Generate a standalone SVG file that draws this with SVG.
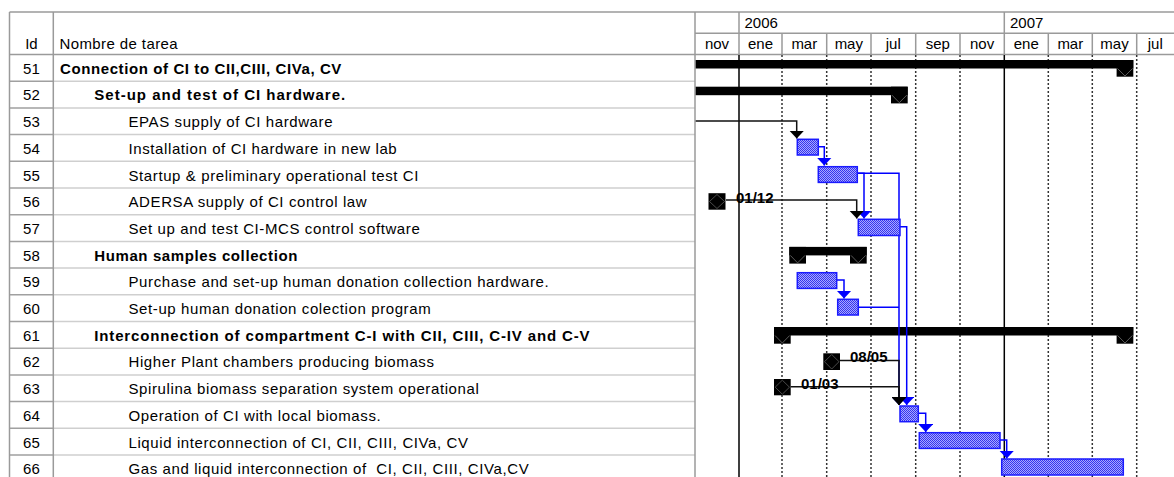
<svg xmlns="http://www.w3.org/2000/svg" width="1174" height="477" viewBox="0 0 1174 477">
<style>
text{font-family:"Liberation Sans",Arial,sans-serif;font-size:15px;fill:#000}
.b{font-weight:bold}
.id{text-anchor:middle}
.mo{text-anchor:middle}
.nm{letter-spacing:0.6px}
.gh{stroke:#9a9a9a;stroke-width:1.5;fill:none}
.rl{stroke:#cfcfcf;stroke-width:1.5}
.rli{stroke:#a0a0a0;stroke-width:1.5}
.dot{stroke:#333;stroke-width:1.5;stroke-dasharray:2 2}
.sol{stroke:#000;stroke-width:1.5}
.sum{fill:#000}
.chev{fill:none;stroke:#5a5a5a;stroke-width:1}
.task{fill:url(#dots);stroke:#1a1aff;stroke-width:1.5}
.ms{fill:#000}
.msd{fill:none;stroke:#4a4a4a;stroke-width:1}
.lb{fill:none;stroke:#0000ff;stroke-width:1.5;marker-end:url(#ab)}
.lk{fill:none;stroke:#111;stroke-width:1.5;marker-end:url(#ak)}
.lbn{fill:none;stroke:#0000ff;stroke-width:1.5}
</style>
<defs>
<pattern id="dots" width="2" height="2" patternUnits="userSpaceOnUse"><rect width="2" height="2" fill="#a8a8ff"/><rect width="1" height="1" fill="#3535ee"/><rect x="1" y="1" width="1" height="1" fill="#3535ee"/></pattern>
<marker id="ab" markerUnits="userSpaceOnUse" viewBox="0 0 8 15" refX="8" refY="7.5" markerWidth="8" markerHeight="15" orient="auto"><path d="M0,0 L8,7.5 L0,15 z" fill="#0000ff"/></marker>
<marker id="ak" markerUnits="userSpaceOnUse" viewBox="0 0 8 15" refX="8" refY="7.5" markerWidth="8" markerHeight="15" orient="auto"><path d="M0,0 L8,7.5 L0,15 z" fill="#000"/></marker>
</defs>
<rect width="1174" height="477" fill="#fff"/>

<g id="grid">
<path class="rl" d="M53.3,81.2H695M53.3,107.9H695M53.3,134.6H695M53.3,161.3H695M53.3,188H695M53.3,214.7H695M53.3,241.4H695M53.3,268.1H695M53.3,294.8H695M53.3,321.5H695M53.3,348.2H695M53.3,374.9H695M53.3,401.6H695M53.3,428.3H695M53.3,455H695"/>
<path class="rli" d="M9.5,81.2H53.3M9.5,107.9H53.3M9.5,134.6H53.3M9.5,161.3H53.3M9.5,188H53.3M9.5,214.7H53.3M9.5,241.4H53.3M9.5,268.1H53.3M9.5,294.8H53.3M9.5,321.5H53.3M9.5,348.2H53.3M9.5,374.9H53.3M9.5,401.6H53.3M9.5,428.3H53.3M9.5,455H53.3"/>
<path class="gh" d="M9.5,12H1174M9.5,54.5H1174M695,33.3H1174M9.5,12V477M53.3,12V477M695,12V477M739,12V54.5M1004.3,12V54.5M782,33.3V54.5M826.7,33.3V54.5M871,33.3V54.5M915.7,33.3V54.5M960,33.3V54.5M1048.3,33.3V54.5M1092.3,33.3V54.5M1136.7,33.3V54.5"/>
<path class="dot" d="M782,55V477M826.7,55V477M871,55V477M915.7,55V477M960,55V477M1048.3,55V477M1092.3,55V477M1136.7,55V477"/>
<path class="sol" d="M739,55V477M1004.3,55V477"/>
<text x="31.4" y="48.7" class="id">Id</text>
<text x="59.5" y="48.7" style="letter-spacing:0.4px">Nombre de tarea</text>
<text x="744.5" y="28.3">2006</text>
<text x="1010" y="28.3">2007</text>
<text x="717" y="48.7" class="mo">nov</text>
<text x="760.5" y="48.7" class="mo">ene</text>
<text x="804.3" y="48.7" class="mo">mar</text>
<text x="848.8" y="48.7" class="mo">may</text>
<text x="893.3" y="48.7" class="mo">jul</text>
<text x="937.8" y="48.7" class="mo">sep</text>
<text x="982.1" y="48.7" class="mo">nov</text>
<text x="1026.3" y="48.7" class="mo">ene</text>
<text x="1070.3" y="48.7" class="mo">mar</text>
<text x="1114.5" y="48.7" class="mo">may</text>
<text x="1155.3" y="48.7" class="mo">jul</text>
</g>

<g id="task-labels">
<text x="31.4" y="73.7" class="id">51</text><text x="60" y="73.7" class="b nm">Connection of CI to CII,CIII, CIVa, CV</text>
<text x="31.4" y="100.4" class="id">52</text><text x="94.3" y="100.4" class="b" style="letter-spacing:1px">Set-up and test of CI hardware.</text>
<text x="31.4" y="127.1" class="id">53</text><text x="128.5" y="127.1" class="nm">EPAS supply of CI hardware</text>
<text x="31.4" y="153.8" class="id">54</text><text x="128.5" y="153.8" class="nm">Installation of CI hardware in new lab</text>
<text x="31.4" y="180.5" class="id">55</text><text x="128.5" y="180.5" class="nm">Startup &amp; preliminary operational test CI</text>
<text x="31.4" y="207.2" class="id">56</text><text x="128.5" y="207.2" class="nm">ADERSA supply of CI control law</text>
<text x="31.4" y="233.9" class="id">57</text><text x="128.5" y="233.9" class="nm">Set up and test CI-MCS control software</text>
<text x="31.4" y="260.6" class="id">58</text><text x="94.3" y="260.6" class="b nm">Human samples collection</text>
<text x="31.4" y="287.3" class="id">59</text><text x="128.5" y="287.3" class="nm">Purchase and set-up human donation collection hardware.</text>
<text x="31.4" y="314" class="id">60</text><text x="128.5" y="314" class="nm">Set-up human donation colection program</text>
<text x="31.4" y="340.7" class="id">61</text><text x="94.3" y="340.7" class="b nm" style="letter-spacing:0.85px">Interconnection of compartment C-I with CII, CIII, C-IV and C-V</text>
<text x="31.4" y="367.4" class="id">62</text><text x="128.5" y="367.4" class="nm">Higher Plant chambers producing biomass</text>
<text x="31.4" y="394.1" class="id">63</text><text x="128.5" y="394.1" class="nm">Spirulina biomass separation system operational</text>
<text x="31.4" y="420.8" class="id">64</text><text x="128.5" y="420.8" class="nm">Operation of CI with local biomass.</text>
<text x="31.4" y="447.5" class="id">65</text><text x="128.5" y="447.5" class="nm">Liquid interconnection of CI, CII, CIII, CIVa, CV</text>
<text x="31.4" y="474.2" class="id">66</text><text x="128.5" y="474.2" class="nm" style="white-space:pre">Gas and liquid interconnection of  CI, CII, CIII, CIVa,CV</text>
</g>

<g id="s51">
<rect class="sum" x="695.7" y="60" width="437.6" height="8.5"/>
<rect class="sum" x="1116.6" y="60" width="16.7" height="16.7"/>
<polyline class="chev" points="1117.5,68.5 1125,76 1132.5,68.5"/>
</g>
<g id="s52">
<rect class="sum" x="695.7" y="86.7" width="212" height="8.5"/>
<rect class="sum" x="891" y="86.7" width="16.7" height="16.7"/>
<polyline class="chev" points="892,95.2 899.3,102.7 906.7,95.2"/>
</g>
<g id="s58">
<rect class="sum" x="789.3" y="246.9" width="77.4" height="8.5"/>
<rect class="sum" x="789.3" y="246.9" width="16.7" height="16.7"/>
<rect class="sum" x="850" y="246.9" width="16.7" height="16.7"/>
<polyline class="chev" points="790.3,255.4 797.6,262.9 805,255.4"/>
<polyline class="chev" points="851,255.4 858.3,262.9 865.7,255.4"/>
</g>
<g id="s61">
<rect class="sum" x="774" y="327" width="359.3" height="8.5"/>
<rect class="sum" x="774" y="327" width="16.7" height="16.7"/>
<rect class="sum" x="1116.6" y="327" width="16.7" height="16.7"/>
<polyline class="chev" points="775,335.5 782.3,343 789.7,335.5"/>
<polyline class="chev" points="1117.6,335.5 1125,343 1132.3,335.5"/>
</g>

<g id="connectors">
<path class="lb" d="M857.3,173.3H899V405"/>
<path class="lb" d="M900,226.7H906.7V405"/>
<path class="lbn" d="M858.3,307.3H899"/>
<path class="lb" d="M818.3,146.7H824.3V165.5"/>
<path class="lb" d="M857.3,173.3H864V218.5"/>
<path class="lb" d="M836.7,280H844V298.5"/>
<path class="lb" d="M918.3,413.3H925.7V432"/>
<path class="lb" d="M1000,440H1006.7V458.5"/>
<path class="lk" d="M695.7,121H796.7V138.5"/>
<path class="lk" d="M726,200H856.7V218.5"/>
<path class="lk" d="M840,360.5H899V405"/>
<path class="lk" d="M790.7,386.7H899V405"/>
</g>

<g id="t54"><rect class="task" x="797.3" y="139.3" width="21" height="15.7"/></g>
<g id="t55"><rect class="task" x="818.3" y="166.7" width="39" height="15.7"/></g>
<g id="m56"><rect class="ms" x="708.5" y="193.2" width="17" height="16.5"/><path class="msd" d="M717,194.5L724.5,201.5L717,208.5L709.5,201.5z"/><text x="736" y="203.3" class="b">01/12</text></g>
<g id="t57"><rect class="task" x="858.3" y="219.3" width="41.7" height="16.2"/></g>
<g id="t59"><rect class="task" x="797.3" y="272.7" width="39.4" height="15.7"/></g>
<g id="t60"><rect class="task" x="837.7" y="299.3" width="20.6" height="15.7"/></g>
<g id="m62"><rect class="ms" x="823.3" y="353.3" width="16.7" height="16.7"/><path class="msd" d="M831.7,354.5L839,361.7L831.7,369L824.5,361.7z"/><text x="850" y="361.7" class="b">08/05</text></g>
<g id="m63"><rect class="ms" x="774" y="379" width="16.7" height="16.3"/><path class="msd" d="M782.3,380.2L789.5,387.2L782.3,394.2L775.2,387.2z"/><text x="801" y="389.3" class="b">01/03</text></g>
<g id="t64"><rect class="task" x="900" y="406" width="18.3" height="15.7"/></g>
<g id="t65"><rect class="task" x="919.3" y="432.7" width="80.7" height="15.7"/></g>
<g id="t66"><rect class="task" x="1001.7" y="459" width="121.6" height="16"/></g>
</svg>
